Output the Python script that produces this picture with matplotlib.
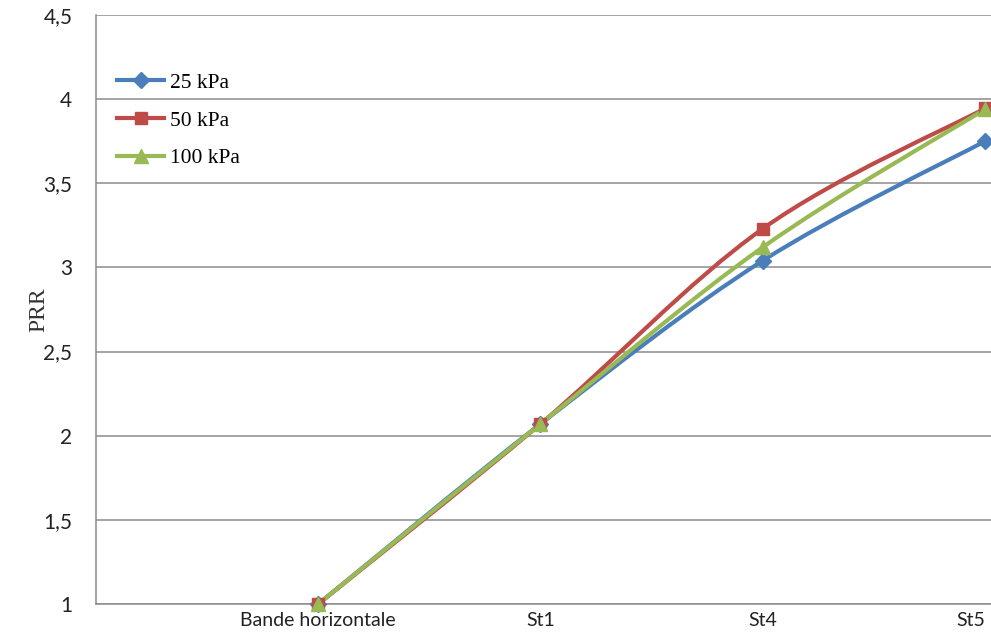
import matplotlib
matplotlib.use("Agg")
import matplotlib.pyplot as plt
from matplotlib.path import Path
from matplotlib.patches import PathPatch
from matplotlib.ticker import FuncFormatter, MultipleLocator
import numpy as np

categories = ["Bande horizontale", "St1", "St4", "St5"]
series_names = ["25 kPa", "50 kPa", "100 kPa"]
s25 = [1.0, 2.07, 3.04, 3.75]
s50 = [1.0, 2.07, 3.23, 3.945]
s100 = [1.0, 2.07, 3.12, 3.94]
colors = ["#4A7EBB", "#BE4B48", "#98B954"]
markers = ["D", "s", "^"]
msizes = [8, 9, 9.5]

W, H = 991, 636
fig = plt.figure(figsize=(W / 100, H / 100), dpi=100)
ax = fig.add_axes([96 / W, (H - 604) / H, (W - 96) / W, (604 - 15) / H])

x = np.arange(1, len(categories) + 1)

def smooth_path(xs, ys):
    pts = np.column_stack([xs, ys]).astype(float)
    n = len(pts)
    verts = [pts[0]]
    codes = [Path.MOVETO]
    for i in range(n - 1):
        p0 = pts[i - 1] if i > 0 else pts[i]
        p1 = pts[i]
        p2 = pts[i + 1]
        p3 = pts[i + 2] if i + 2 < n else pts[i + 1]
        c1 = p1 + (p2 - p0) / 6.0
        c2 = p2 - (p3 - p1) / 6.0
        verts += [c1, c2, p2]
        codes += [Path.CURVE4] * 3
    return Path(verts, codes)

for vals, c, m, ms, name in zip([s25, s50, s100], colors, markers, msizes, series_names):
    patch = PathPatch(smooth_path(x, vals), facecolor="none", edgecolor=c, lw=3,
                      capstyle="round", joinstyle="round", zorder=3)
    ax.add_patch(patch)
    ax.plot(x, vals, linestyle="none", marker=m, markersize=ms, color=c, zorder=4,
            clip_on=False)
    ax.plot([], [], color=c, lw=3, marker=m, markersize=ms, label=name)

ax.set_xlim(0, 4 + 6 / 222)
ax.set_ylim(1, 4.5)
ax.yaxis.set_major_locator(MultipleLocator(0.5))
ax.yaxis.set_major_formatter(FuncFormatter(lambda v, p: ("%g" % v).replace(".", ",")))
ax.set_xticks(x)
ax.set_xticklabels(categories)
ax.grid(axis="y", color="#8C8C8C", lw=1.1)
ax.set_axisbelow(True)
for s in ["top", "right"]:
    ax.spines[s].set_visible(False)
for s in ["left", "bottom"]:
    ax.spines[s].set_color("#8C8C8C")
    ax.spines[s].set_linewidth(1.1)
ax.tick_params(axis="both", length=0)
ax.tick_params(axis="y", pad=17, labelsize=15)
ax.tick_params(axis="x", pad=6, labelsize=14)
for lab in ax.get_xticklabels() + ax.get_yticklabels():
    lab.set_fontfamily("Lato")
    lab.set_color("#222222")
ax.get_xticklabels()[-1].set_horizontalalignment("right")
ax.get_xticklabels()[-1].set_x(4 + 6 / 222)

ax.set_ylabel("PRR", family="Liberation Serif", fontsize=17, color="#333333")
ax.yaxis.set_label_coords(-0.0525, 0.5)

leg = ax.legend(loc="upper left", bbox_to_anchor=(0.0235, 0.902), frameon=False,
                prop={"family": "Liberation Serif", "size": 15.5}, handlelength=2.2,
                handletextpad=0.25, labelspacing=0.82, borderaxespad=0, borderpad=0)

fig.savefig("out.png", dpi=100)
